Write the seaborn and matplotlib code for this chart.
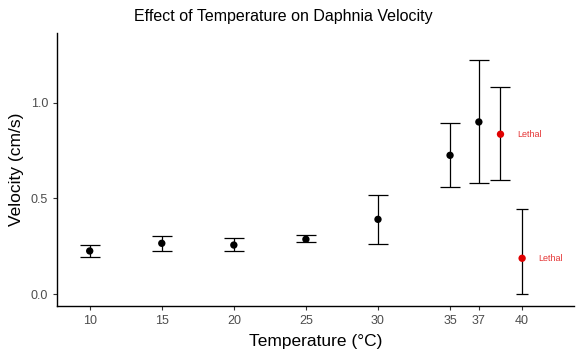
import matplotlib
matplotlib.use("Agg")
import matplotlib.pyplot as plt
import seaborn as sns
import pandas as pd

temperature = [10, 15, 20, 25, 30, 35, 37, 38.5, 40]
velocity = [0.226, 0.266, 0.257, 0.287, 0.391, 0.725, 0.899, 0.835, 0.188]
upper = [0.257, 0.304, 0.292, 0.309, 0.518, 0.892, 1.221, 1.080, 0.447]
lower = [0.193, 0.224, 0.224, 0.271, 0.261, 0.560, 0.579, 0.595, 0.000]
status = ["Alive", "Alive", "Alive", "Alive", "Alive", "Alive", "Alive", "Lethal", "Lethal"]
x_ticks = [10, 15, 20, 25, 30, 35, 37, 40]
y_ticks = [0.0, 0.5, 1.0]

df = pd.DataFrame({"Temperature": temperature, "Velocity": velocity,
                   "upper": upper, "lower": lower, "status": status})

sns.set_theme(style="white")
plt.rcParams["font.family"] = ["Liberation Sans", "DejaVu Sans"]

fig = plt.figure(figsize=(5.82, 3.56), dpi=100)
ax = fig.add_axes([57/582, 50/356, (574-57)/582, (306-33)/356])

caps = [7.1] * 8 + [4.6]
for i, row in df.iterrows():
    ax.errorbar(row.Temperature, row.Velocity,
                yerr=[[row.Velocity - row.lower], [row.upper - row.Velocity]],
                fmt="none", ecolor="black", elinewidth=0.9,
                capsize=caps[i], capthick=0.9, zorder=2)

sns.scatterplot(data=df, x="Temperature", y="Velocity", hue="status",
                palette={"Alive": "black", "Lethal": "#e00000"},
                s=28, edgecolor="none", legend=False, ax=ax, zorder=3)

for _, row in df[df.status == "Lethal"].iterrows():
    ax.text(row.Temperature + 2.0, row.Velocity, "Lethal", color="#e53535",
            fontsize=6.5, ha="center", va="center")

ax.set_xlim(7.73, 43.6)
ax.set_ylim(-0.061, 1.363)
ax.set_xticks(x_ticks)
ax.set_xticklabels([str(t) for t in x_ticks])
ax.set_yticks(y_ticks)
ax.set_yticklabels(["0.0", "0.5", "1.0"])
ax.tick_params(axis="both", which="both", direction="out", length=3, width=0.8,
               color="#333333", labelcolor="#4d4d4d", labelsize=9, pad=3.5,
               bottom=True, left=True)
for s in ["top", "right"]:
    ax.spines[s].set_visible(False)
for s in ["left", "bottom"]:
    ax.spines[s].set_color("black")
    ax.spines[s].set_linewidth(1.0)

ax.set_xlabel("Temperature (°C)", fontsize=12.5, color="black", labelpad=5)
ax.set_ylabel("Velocity (cm/s)", fontsize=12.5, color="black", labelpad=5)
fig.text(283.5/582, 1 - 17/356, "Effect of Temperature on Daphnia Velocity",
         ha="center", va="center", fontsize=11.5, color="black")

fig.savefig("out.png", dpi=100)
